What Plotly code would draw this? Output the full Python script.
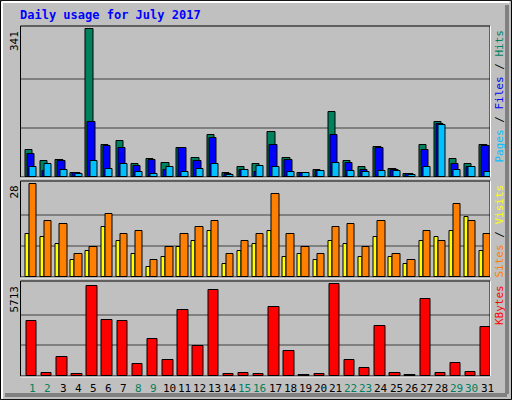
import plotly.graph_objects as go

days = list(range(1, 32))
hits = [63,38,40,10,341,75,82,31,42,33,68,45,98,10,24,31,103,45,10,17,149,38,24,70,19,8,75,128,42,31,75]
files = [54,15,36,9,126,72,68,26,40,17,66,38,91,8,17,12,75,40,10,15,98,33,17,66,17,6,63,123,31,24,72]
pages = [22,30,17,7,38,19,29,12,8,22,12,19,29,5,17,26,24,12,10,15,33,15,12,15,15,5,22,121,17,24,12]
visits = [13,12,10,5,8,15,11,7,3,6,9,11,14,4,8,10,14,6,7,5,11,10,6,12,6,4,11,12,14,18,8]
sites = [28,17,16,7,9,19,13,14,5,9,13,15,17,7,11,13,25,13,9,7,15,16,9,17,7,5,14,11,22,17,13]
kbytes = [3398,188,1188,125,5567,3503,3440,750,2314,1000,4128,1876,5317,125,188,125,4316,1564,60,125,5713,1000,500,3127,188,60,4754,188,813,250,3065]
weekend = {1,2,8,9,15,16,22,23,29,30}
max_hits, max_sites, max_kb = 341, 28, 5713

W, H = 512, 400
def py(p): return 1 - p / H
x0, x1 = 20.5 / W, 490 / W
panels = [(26, 177), (181, 277), (281, 376)]

fig = go.Figure()
def bars(y, color, off, width, ax):
    fig.add_trace(go.Bar(x=days, y=y, offset=off, width=width, marker=dict(color=color, line=dict(color="black", width=1)),
                         xaxis="x" + ax, yaxis="y" + ax, showlegend=False, hoverinfo="y"))
bars(hits, "#00805C", -0.44, 0.49, "")
bars(files, "#0000FF", -0.31, 0.49, "")
bars(pages, "#00C0FF", -0.15, 0.46, "")
bars(visits, "#FFFF00", -0.44, 0.26, "2")
bars(sites, "#FF8000", -0.18, 0.49, "2")
bars(kbytes, "#FF0000", -0.38, 0.69, "3")

xr = [0.24, 31.24]
mx = [max_hits, max_sites, max_kb]
scale = [151 / 147.7, 95.3 / 92, 94.3 / 91.3]
lay = dict(barmode="overlay", width=W, height=H, margin=dict(l=0, r=0, t=0, b=0),
           paper_bgcolor="#C0C0C0", plot_bgcolor="#C0C0C0", bargap=0)
for i, (t, b) in enumerate(panels):
    s = "" if i == 0 else str(i + 1)
    lay["xaxis" + s] = dict(domain=[x0, x1], range=xr, anchor="y" + s, showticklabels=False, showgrid=False, zeroline=False, ticks="")
    lay["yaxis" + s] = dict(domain=[py(b), py(t)], range=[0, mx[i] * scale[i]], anchor="x" + s,
                            tickvals=[mx[i] / 3, mx[i] * 2 / 3], showticklabels=False, gridcolor="#808080", gridwidth=1.5, zeroline=False)
fig.update_layout(**lay)

shapes = [
    dict(type="rect", xref="paper", yref="paper", x0=0.001, x1=0.999, y0=0.001, y1=0.999, line=dict(color="black", width=1)),
    dict(type="line", xref="paper", yref="paper", x0=2/W, x1=2/W, y0=0.003, y1=0.995, line=dict(color="white", width=2)),
    dict(type="line", xref="paper", yref="paper", x0=0.004, x1=0.995, y0=1-2/H, y1=1-2/H, line=dict(color="white", width=2)),
    dict(type="line", xref="paper", yref="paper", x0=1-5/W, x1=1-5/W, y0=6/H, y1=1-5/H, line=dict(color="#808080", width=4)),
    dict(type="line", xref="paper", yref="paper", x0=5/W, x1=1-5/W, y0=5/H, y1=5/H, line=dict(color="#808080", width=4)),
]
for t, b in panels:
    shapes.append(dict(type="rect", xref="paper", yref="paper", x0=x0, x1=x1, y0=py(b), y1=py(t), line=dict(color="black", width=1)))
    shapes.append(dict(type="line", xref="paper", yref="paper", x0=x0, x1=x1, y0=py(b + 1), y1=py(b + 1), line=dict(color="white", width=1)))
    shapes.append(dict(type="line", xref="paper", yref="paper", x0=x1 + 0.5/W, x1=x1 + 0.5/W, y0=py(b), y1=py(t), line=dict(color="white", width=1)))
fig.update_layout(shapes=shapes)

mono = "DejaVu Sans Mono"
ann = [dict(text="<b>Daily usage for July 2017</b>", x=18/W, y=py(15), xref="paper", yref="paper", showarrow=False,
            xanchor="left", yanchor="middle", font=dict(family=mono, size=12, color="#0000FF"))]
for (t, b), m in zip(panels, ["341", "28", "5713"]):
    ann.append(dict(text=m, x=14/W, y=py(t + 3), xref="paper", yref="paper", showarrow=False, textangle=-90,
                    xanchor="center", yanchor="top", font=dict(family=mono, size=11, color="black")))
rl = ['<span style="color:#00C0FF">Pages</span><span style="color:black"> / </span><span style="color:#0000FF">Files</span><span style="color:black"> / </span><span style="color:#00805C">Hits</span>',
      '<span style="color:#FF8000">Sites</span><span style="color:black"> / </span><span style="color:#FFFF00">Visits</span>',
      '<span style="color:#FF0000">KBytes</span>']
for (t, b), txt in zip(panels, rl):
    ann.append(dict(text=txt, x=499/W, y=py(t + 2), xref="paper", yref="paper", showarrow=False, textangle=-90,
                    xanchor="center", yanchor="top", font=dict(family=mono, size=11)))
for d in days:
    ann.append(dict(text=str(d), x=d + 0.05, y=py(388), xref="x3", yref="paper", showarrow=False, xanchor="center", yanchor="middle",
                    font=dict(family=mono, size=11, color="#00805C" if d in weekend else "black")))
fig.update_layout(annotations=ann)
fig.write_html("out.html", config={"displayModeBar": False})
with open("out.html") as f:
    html = f.read()
html = html.replace("<head>", "<head><style>html,body{margin:0;padding:0;overflow:hidden}</style>", 1)
with open("out.html", "w") as f:
    f.write(html)
